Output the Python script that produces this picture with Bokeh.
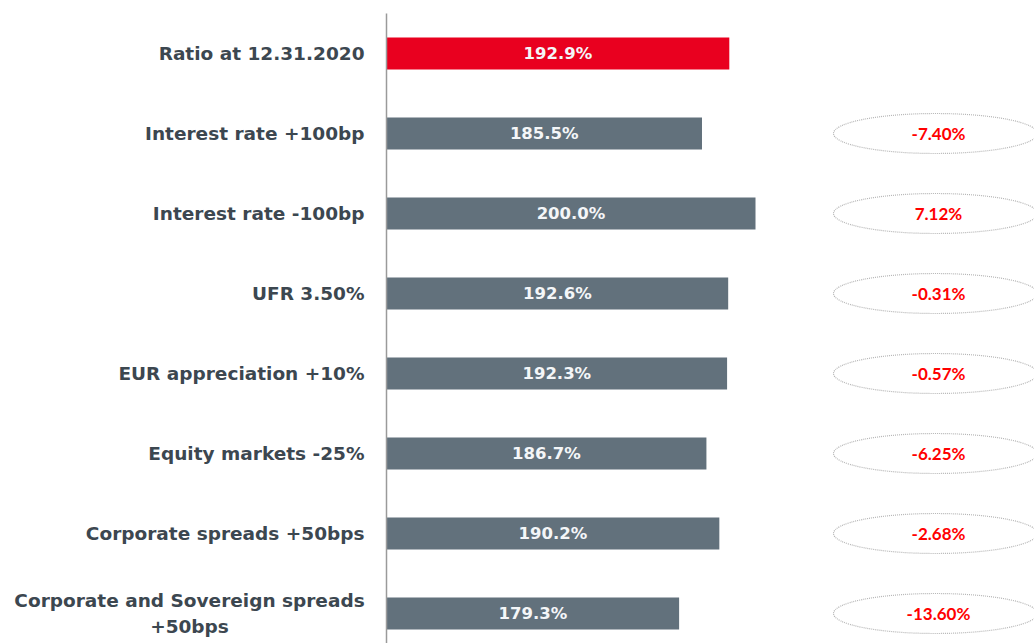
from bokeh.plotting import figure
from bokeh.models import Range1d, ColumnDataSource
from bokeh.core.properties import value
from bokeh.embed import file_html
from bokeh.resources import INLINE

categories = [
    "Ratio at 12.31.2020",
    "Interest rate +100bp",
    "Interest rate -100bp",
    "UFR 3.50%",
    "EUR appreciation +10%",
    "Equity markets -25%",
    "Corporate spreads +50bps",
    "Corporate and Sovereign spreads\n+50bps",
]
ratios = [192.9, 185.5, 200.0, 192.6, 192.3, 186.7, 190.2, 179.3]
changes = [None, -7.40, 7.12, -0.31, -0.57, -6.25, -2.68, -13.60]

W, H = 1034, 643
AX_PX = 386          # axis position in plot pixels
BASE = 100.0         # ratio value at axis
PX_PER = 3.69        # pixels per ratio point
ROW0, ROWH = 53, 80  # first row centre, row spacing (px)

x_start = BASE - AX_PX / PX_PER
x_end = BASE + (W - AX_PX) / PX_PER
y_top = -ROW0 / ROWH
y_bot = (H - ROW0) / ROWH

def px_to_x(px):
    return BASE + (px - AX_PX) / PX_PER

p = figure(width=W, height=H, x_range=Range1d(x_start, x_end),
           y_range=Range1d(y_bot, y_top), min_border=0, title=None,
           x_axis_location=None, y_axis_location=None,
           toolbar_location=None, output_backend="svg")
p.grid.visible = False
p.outline_line_color = None
p.background_fill_color = "white"

idx = list(range(len(categories)))
colors = ["#e9001f"] + ["#62717c"] * (len(categories) - 1)
src = ColumnDataSource(dict(
    y=idx, right=ratios, left=[BASE] * len(ratios), color=colors,
    mid=[(BASE + r) / 2 for r in ratios],
    lab=[f"{r:.1f}%" for r in ratios],
))

p.hbar(y="y", left="left", right="right", height=0.4, fill_color="color",
       line_color=None, source=src)
p.text(x="mid", y="y", text="lab", source=src, text_align="center",
       text_baseline="middle", text_color="#f4f6f8",
       text_font=value("DejaVu Sans"), text_font_style="bold",
       text_font_size="16.5px")

# axis line
p.segment(x0=[BASE], y0=[y_top + 13 / ROWH], x1=[BASE], y1=[y_bot],
          line_color="#9a9a9a", line_width=1.5)

# category labels
single = [i for i, c in enumerate(categories) if "\n" not in c]
multi = [i for i, c in enumerate(categories) if "\n" in c]
p.text(x=[BASE] * len(single), y=single, text=[categories[i] for i in single],
       x_offset=-22, text_align="right", text_baseline="middle",
       text_color="#3c4750", text_font=value("DejaVu Sans"),
       text_font_style="bold", text_font_size="18.5px")
p.text(x=[BASE] * len(multi), y=multi, text=[categories[i] for i in multi],
       x_offset=-197, text_align="center", text_baseline="middle",
       text_color="#3c4750", text_font=value("DejaVu Sans"),
       text_font_style="bold", text_font_size="18.5px", text_line_height=1.2)

# change ellipses
ci = [i for i, c in enumerate(changes) if c is not None]
ex = px_to_x(935)
p.ellipse(x=[ex] * len(ci), y=ci, width=204, height=40,
          width_units="screen", height_units="screen",
          fill_color="white", line_color="#b5b5b5", line_dash="1 1",
          line_width=1.2)
p.text(x=[px_to_x(938)] * len(ci), y=ci, text=[f"{changes[i]:.2f}%" for i in ci],
       text_align="center", text_baseline="middle", text_color="#ff0000",
       text_font=value("Lato"), text_font_style="bold",
       text_font_size="17px")

open("out.html", "w").write(file_html(p, INLINE))
